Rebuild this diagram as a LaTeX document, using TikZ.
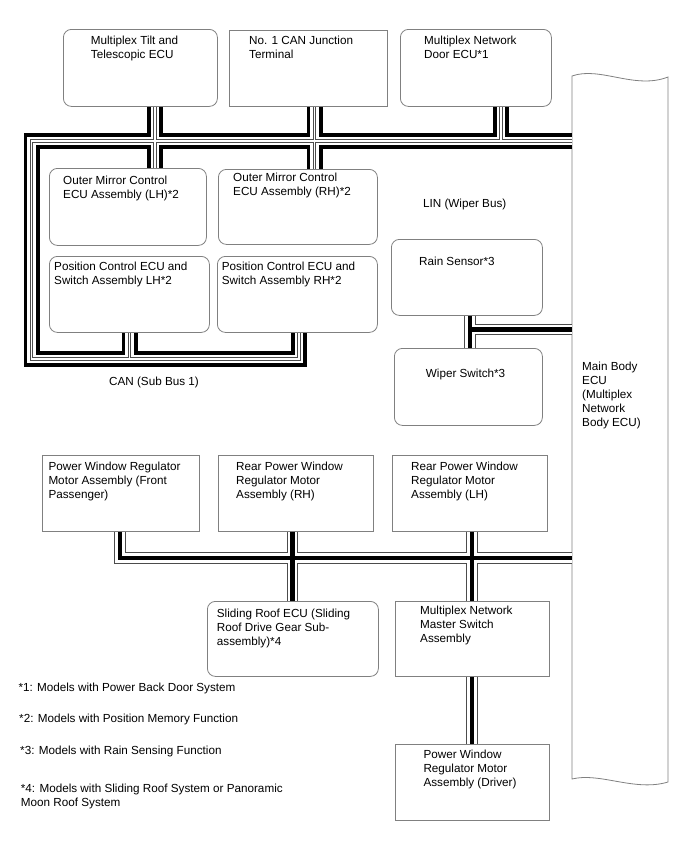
\documentclass[tikz,border=0pt]{standalone}
\usepackage{fontspec}
\setmainfont{Liberation Sans}
\usepackage{xcolor}
\usepackage{tikz}
\usetikzlibrary{calc}

\definecolor{boxline}{gray}{0.5}
\definecolor{wire}{gray}{0.3}

\tikzset{
  ecubox/.style={draw=boxline,line width=0.8pt,fill=white,inner sep=0pt,anchor=north west},
  rbox/.style={ecubox,rounded corners=8pt},
  boxtext/.style={anchor=north west,align=left,inner sep=0pt},
  canA/.style={line width=16pt,black},
  canB/.style={line width=8.4pt,white},
  canC/.style={line width=3.6pt,wire},
  canD/.style={line width=1.8pt,white},
  linA/.style={line width=11.5pt,wire},
  linB/.style={line width=9.7pt,white},
  linC/.style={line width=4.4pt,black}
}

% CAN (Sub Bus 1) and its branches, drawn once per layer
\newcommand{\canwires}[1]{%
  \draw[#1] (mbecu.west |- canT) -- (canL |- canT) -- (canL |- canB) -- (d5 |- canB) -- (d5 |- pcrh.south);
  \draw[#1] (d4 |- canB) -- (d4 |- pclh.south);
  \draw[#1] (d1 |- tilt.south) -- (d1 |- omlh.north);
  \draw[#1] (d2 |- cjt.south) -- (d2 |- omrh.north);
  \draw[#1] (d3 |- door.south) -- (d3 |- canT);
}
% LIN (Wiper Bus) and the window bus
\newcommand{\linwires}[1]{%
  \draw[#1] (linx |- rain.south) -- (linx |- wiper.north);
  \draw[#1] (linx |- liny) -- (mbecu.west |- liny);
  \draw[#1] (e1 |- pwfp.south) -- (e1 |- lwy) -- (mbecu.west |- lwy);
  \draw[#1] (e2 |- rprh.south) -- (e2 |- sroof.north);
  \draw[#1] (e3 |- rplh.south) -- (e3 |- msw.north);
  \draw[#1] (e3 |- msw.south) -- (e3 |- pwdr.north);
}

\begin{document}
\begin{tikzpicture}[x=1pt,y=-1pt,line join=miter,font=\fontsize{11.7pt}{14pt}\selectfont]
  \useasboundingbox (0,0) rectangle (688,852);
  \coordinate (canT) at (0,141);
  \coordinate (canB) at (0,359);
  \coordinate (canL) at (31.5,0);
  \coordinate (d1) at (155,0);
  \coordinate (d2) at (314.5,0);
  \coordinate (d3) at (501,0);
  \coordinate (d4) at (129.5,0);
  \coordinate (d5) at (299,0);
  \coordinate (linx) at (470,0);
  \coordinate (liny) at (0,329.5);
  \coordinate (lwy) at (0,558);
  \coordinate (e1) at (120,0);
  \coordinate (e2) at (292.5,0);
  \coordinate (e3) at (472,0);

  % main body ECU
  \node[inner sep=0pt,minimum width=96pt,minimum height=703pt,anchor=north west] (mbecu) at (572,76) {};
  \draw[boxline,line width=0.8pt] (572,76) .. controls (600,66) and (635,90) .. (668,77)
    -- (668,782) .. controls (635,792) and (600,772) .. (572,779) -- cycle;
  \node[boxtext] (mbecu-t) at (582,362) {Main Body\\ECU\\(Multiplex\\Network\\Body ECU)};

  % top row
  \node[rbox,minimum width=154pt,minimum height=77pt] (tilt) at (63,29) {};
  \node[ecubox,minimum width=158pt,minimum height=76pt] (cjt) at (229,30) {};
  \node[rbox,minimum width=151pt,minimum height=77pt] (door) at (400,29) {};
  \node[boxtext] (tilt-t) at (90.7,36) {Multiplex Tilt and\\Telescopic ECU};
  \node[boxtext] (cjt-t) at (249,36) {No. 1 CAN Junction\\Terminal};
  \node[boxtext] (door-t) at (424,35.5) {Multiplex Network\\Door ECU*1};

  % inside the CAN loop
  \node[rbox,minimum width=157pt,minimum height=77pt] (omlh) at (49,168) {};
  \node[rbox,minimum width=159pt,minimum height=75pt] (omrh) at (218,169) {};
  \node[rbox,minimum width=160pt,minimum height=76pt] (pclh) at (49,256) {};
  \node[rbox,minimum width=160pt,minimum height=76pt] (pcrh) at (217,256) {};
  \node[boxtext] (omlh-t) at (63,175.5) {Outer Mirror Control\\ECU Assembly (LH)*2};
  \node[boxtext] (omrh-t) at (233,173) {Outer Mirror Control\\ECU Assembly (RH)*2};
  \node[boxtext] (pclh-t) at (54,261.5) {Position Control ECU and\\Switch Assembly LH*2};
  \node[boxtext] (pcrh-t) at (221.7,261.5) {Position Control ECU and\\Switch Assembly RH*2};
  \node (canlbl) at (154,382) {CAN (Sub Bus 1)};

  % LIN
  \node (linlbl) at (464.7,204) {LIN (Wiper Bus)};
  \node[rbox,minimum width=151pt,minimum height=76pt] (rain) at (391,239) {};
  \node[rbox,minimum width=148pt,minimum height=77pt] (wiper) at (394,348) {};
  \node[boxtext] (rain-t) at (419,256.5) {Rain Sensor*3};
  \node[boxtext] (wiper-t) at (425.7,368.5) {Wiper Switch*3};

  % window bus
  \node[ecubox,minimum width=157pt,minimum height=76pt] (pwfp) at (42,455) {};
  \node[ecubox,minimum width=155pt,minimum height=76pt] (rprh) at (218,455) {};
  \node[ecubox,minimum width=155pt,minimum height=76pt] (rplh) at (392,455) {};
  \node[rbox,minimum width=171pt,minimum height=75pt] (sroof) at (207,601) {};
  \node[ecubox,minimum width=154pt,minimum height=75pt] (msw) at (395,601) {};
  \node[ecubox,minimum width=154pt,minimum height=76pt] (pwdr) at (395,744) {};
  \node[boxtext] (pwfp-t) at (48.3,461.5) {Power Window Regulator\\Motor Assembly (Front\\Passenger)};
  \node[boxtext] (rprh-t) at (236,461.5) {Rear Power Window\\Regulator Motor\\Assembly (RH)};
  \node[boxtext] (rplh-t) at (411,461.5) {Rear Power Window\\Regulator Motor\\Assembly (LH)};
  \node[boxtext] (sroof-t) at (216.7,608.5) {Sliding Roof ECU (Sliding\\Roof Drive Gear Sub-\\assembly)*4};
  \node[boxtext] (msw-t) at (420,605.5) {Multiplex Network\\Master Switch\\Assembly};
  \node[boxtext] (pwdr-t) at (423.3,749.5) {Power Window\\Regulator Motor\\Assembly (Driver)};

  % buses
  \canwires{canA}
  \canwires{canB}
  \canwires{canC}
  \canwires{canD}
  \linwires{linA}
  \linwires{linB}
  \linwires{linC}

  % notes
  \node[anchor=west,inner sep=0pt] (note1) at (18.3,688.3) {*1: Models with Power Back Door System};
  \node[anchor=west,inner sep=0pt] (note2) at (19,719.3) {*2: Models with Position Memory Function};
  \node[anchor=west,inner sep=0pt] (note3) at (20,751) {*3: Models with Rain Sensing Function};
  \node[boxtext] (note4) at (20.7,783.8) {*4: Models with Sliding Roof System or Panoramic\\Moon Roof System};
\end{tikzpicture}
\end{document}
